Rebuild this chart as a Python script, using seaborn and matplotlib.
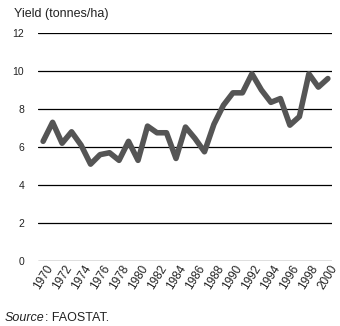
import matplotlib
matplotlib.use("Agg")
import matplotlib.pyplot as plt
import seaborn as sns
import pandas as pd

years = list(range(1970, 2001))
yield_t_ha = [6.3, 7.3, 6.2, 6.8, 6.1, 5.1, 5.6, 5.7, 5.3, 6.3,
              5.3, 7.1, 6.75, 6.75, 5.4, 7.05, 6.45, 5.75, 7.2, 8.2,
              8.85, 8.85, 9.85, 9.0, 8.35, 8.55, 7.15, 7.6, 9.85, 9.15,
              9.6]
y_ticks = [0, 2, 4, 6, 8, 10, 12]
x_ticks = list(range(1970, 2001, 2))

df = pd.DataFrame({"year": years, "yield": yield_t_ha})

sns.set_style("white")
plt.rcParams["font.family"] = ["Liberation Sans", "DejaVu Sans"]

fig = plt.figure(figsize=(3.4, 3.26), dpi=100)
ax = fig.add_axes([0.112, 0.199, 0.864, 0.700])

# horizontal reference lines at every labelled value
for v in y_ticks:
    ax.axhline(v, color="black", lw=0.9, zorder=1)

sns.lineplot(data=df, x="year", y="yield", ax=ax, color="#555555",
             lw=4.0, zorder=3)

ax.set_xlim(1969.47, 2000.42)
ax.set_ylim(0, 12)
ax.set_yticks(y_ticks)
ax.set_xticks(x_ticks)
ax.set_xticklabels([str(x) for x in x_ticks], rotation=58, ha="center",
                   va="top", fontsize=8.5, color="#222222")
ax.set_yticklabels([str(v) for v in y_ticks], fontsize=7.5, color="#222222")
ax.tick_params(axis="x", length=0, pad=1.5)
ax.tick_params(axis="y", length=0, pad=10)
ax.set_xlabel("")
ax.set_ylabel("")
for s in ax.spines.values():
    s.set_visible(False)

fig.text(0.041, 0.958, "Yield (tonnes/ha)", fontsize=9, color="#222222",
         va="center", ha="left")

# source note: italic "Source" followed by the plain remainder
src = fig.text(0.015, 0.014, "Source", fontsize=9, style="italic",
               color="#222222", va="baseline", ha="left")
fig.add_artist(matplotlib.text.Annotation(
    ": FAOSTAT.", xy=(1, 0), xycoords=src, va="bottom", ha="left",
    fontsize=9, color="#222222"))

fig.savefig("out.png", dpi=100)
